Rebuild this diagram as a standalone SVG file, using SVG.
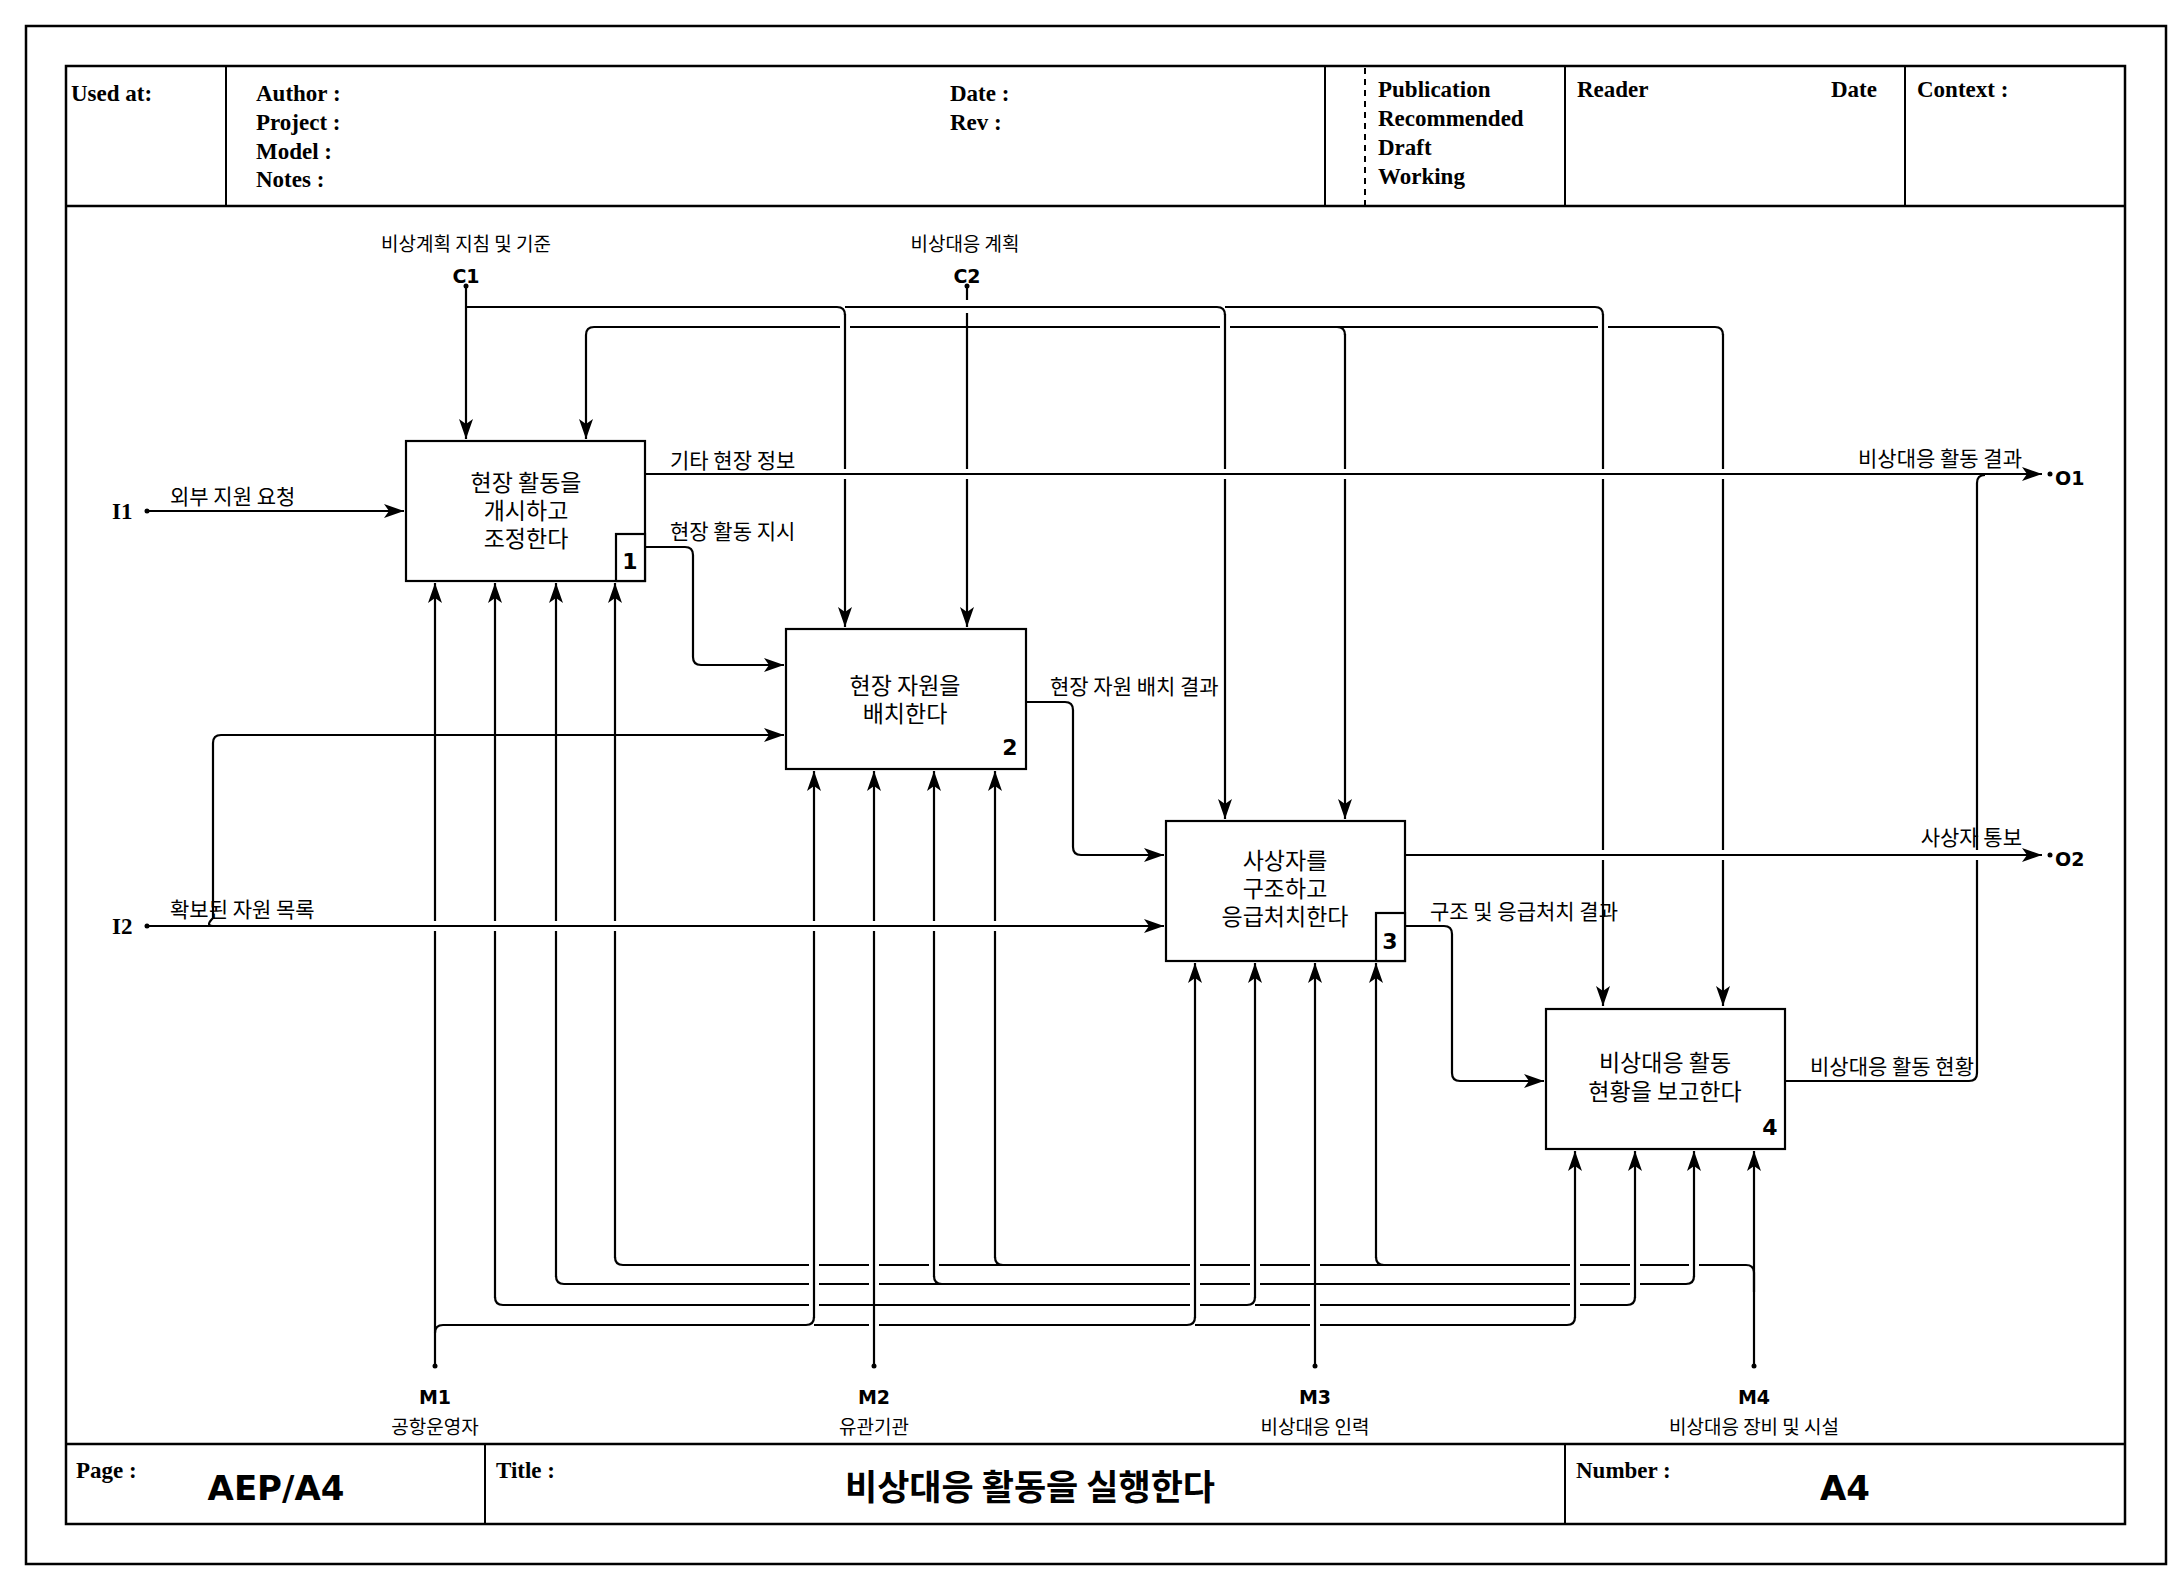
<svg xmlns="http://www.w3.org/2000/svg" width="2181" height="1581" viewBox="0 0 2181 1581">
<style>
.fr{fill:none;stroke:#000;stroke-width:2.5}
.hd{font-family:"Liberation Serif",serif;font-weight:bold;font-size:23px}
.bx{fill:#fff;stroke:#000;stroke-width:2.2}
.bt{font-family:"Noto Sans CJK KR","Noto Sans",sans-serif;font-size:23px;text-anchor:middle}
.lb{font-family:"Noto Sans CJK KR","Noto Sans",sans-serif;font-size:21px}
.sl{font-family:"Noto Sans CJK KR","Noto Sans",sans-serif;font-size:19px;text-anchor:middle}
.nm{font-family:"DejaVu Sans",sans-serif;font-weight:bold;font-size:22px}
.big{font-family:"DejaVu Sans",sans-serif;font-weight:bold;font-size:34px;text-anchor:middle}
.pt{font-family:"DejaVu Sans",sans-serif;font-weight:bold;font-size:19px}
.c{fill:none;stroke:#000;stroke-width:2.2}
.a{marker-end:url(#ar)}
.h{fill:none;stroke:#fff;stroke-width:10}
</style>
<defs>
<marker id="ar" markerUnits="userSpaceOnUse" markerWidth="22" markerHeight="16" refX="20" refY="7" orient="auto">
<path d="M0,0 L20,7 L0,14 L5,7 z" fill="#000"/>
</marker>
</defs>
<rect width="2181" height="1581" fill="#fff"/>
<g id="frame">
<rect class="fr" x="26" y="26" width="2140" height="1538"/>
<rect class="fr" x="66" y="66" width="2059" height="1458"/>
<line class="fr" x1="66" y1="206" x2="2125" y2="206"/>
<line class="fr" x1="66" y1="1444" x2="2125" y2="1444"/>
<line x1="226" y1="66" x2="226" y2="206" stroke="#000" stroke-width="2"/>
<line x1="1325" y1="66" x2="1325" y2="206" stroke="#000" stroke-width="2"/>
<line x1="1365" y1="68" x2="1365" y2="206" stroke="#000" stroke-width="2" stroke-dasharray="6,5"/>
<line x1="1565" y1="66" x2="1565" y2="206" stroke="#000" stroke-width="2"/>
<line x1="1905" y1="66" x2="1905" y2="206" stroke="#000" stroke-width="2"/>
<line x1="485" y1="1444" x2="485" y2="1524" stroke="#000" stroke-width="2"/>
<line x1="1565" y1="1444" x2="1565" y2="1524" stroke="#000" stroke-width="2"/>
<text class="hd" x="71" y="101">Used at:</text>
<text class="hd" x="256" y="101">Author :</text>
<text class="hd" x="256" y="130">Project :</text>
<text class="hd" x="256" y="159">Model :</text>
<text class="hd" x="256" y="187">Notes :</text>
<text class="hd" x="950" y="101">Date :</text>
<text class="hd" x="950" y="130">Rev :</text>
<text class="hd" x="1378" y="97">Publication</text>
<text class="hd" x="1378" y="126">Recommended</text>
<text class="hd" x="1378" y="155">Draft</text>
<text class="hd" x="1378" y="184">Working</text>
<text class="hd" x="1577" y="97">Reader</text>
<text class="hd" x="1831" y="97">Date</text>
<text class="hd" x="1917" y="97">Context :</text>
<text class="hd" x="76" y="1478">Page :</text>
<text class="hd" x="496" y="1478">Title :</text>
<text class="hd" x="1576" y="1478">Number :</text>
<text class="big" x="276" y="1500">AEP/A4</text>
<text x="1030" y="1500" text-anchor="middle" style="font-family:'Noto Sans CJK KR',sans-serif;font-weight:bold;font-size:35px">비상대응 활동을 실행한다</text>
<text class="big" x="1845" y="1500">A4</text>
</g>
<g id="connectors">
<path class="c" d="M435,1333 Q435,1325 443,1325 L806,1325 Q814,1325 814,1317"/>
<path class="c" d="M814,1325 L1187,1325 Q1195,1325 1195,1317"/>
<path class="c" d="M1195,1325 L1567,1325 Q1575,1325 1575,1317"/>
<path class="c" d="M874,1305 L503,1305 Q495,1305 495,1297"/>
<path class="c" d="M874,1305 L1247,1305 Q1255,1305 1255,1297"/>
<path class="c" d="M1255,1305 L1627,1305 Q1635,1305 1635,1297"/>
<path class="c" d="M1315,1284 L564,1284 Q556,1284 556,1276"/>
<path class="c" d="M942,1284 Q934,1284 934,1276"/>
<path class="c" d="M1315,1284 L1686,1284 Q1694,1284 1694,1276"/>
<path class="c" d="M1754,1292 L1754,1273 Q1754,1265 1746,1265 L623,1265 Q615,1265 615,1257"/>
<path class="c" d="M1003,1265 Q995,1265 995,1257"/>
<path class="c" d="M1384,1265 Q1376,1265 1376,1257"/>
<path class="h" d="M814,1315 L814,790 M1195,1315 L1195,980 M1575,1315 L1575,1170 M495,1295 L495,600 M1255,1295 L1255,980 M1635,1295 L1635,1170 M556,1274 L556,600 M934,1274 L934,790 M1694,1274 L1694,1170 M874,1340 L874,1312 M874,1298 L874,1255 M1315,1340 L1315,1290 M1315,1278 L1315,1255"/>
<path class="c a" d="M435,1366 L435,583"/>
<path class="c a" d="M814,1318 L814,771"/>
<path class="c a" d="M1195,1318 L1195,963"/>
<path class="c a" d="M1575,1318 L1575,1151"/>
<path class="c a" d="M874,1366 L874,771"/>
<path class="c a" d="M495,1298 L495,583"/>
<path class="c a" d="M1255,1298 L1255,963"/>
<path class="c a" d="M1635,1298 L1635,1151"/>
<path class="c a" d="M1315,1366 L1315,963"/>
<path class="c a" d="M556,1277 L556,583"/>
<path class="c a" d="M934,1277 L934,771"/>
<path class="c a" d="M1694,1277 L1694,1151"/>
<path class="c a" d="M1754,1366 L1754,1151"/>
<path class="c a" d="M615,1258 L615,583"/>
<path class="c a" d="M995,1258 L995,771"/>
<path class="c a" d="M1376,1258 L1376,963"/>
<path class="c a" d="M466,286 L466,439"/>
<path class="c" d="M466,307 L837,307 Q845,307 845,315"/>
<path class="c" d="M845,307 L1217,307 Q1225,307 1225,315"/>
<path class="c" d="M1225,307 L1595,307 Q1603,307 1603,315"/>
<path class="c a" d="M1715,327 L594,327 Q586,327 586,335 L586,439"/>
<path class="c" d="M1337,327 Q1345,327 1345,335"/>
<path class="c" d="M1715,327 Q1723,327 1723,335"/>
<path class="c" d="M967,286 L967,300"/>
<path class="h" d="M845,316 L845,340 M1225,316 L1225,340 M1603,316 L1603,340"/>
<path class="c a" d="M967,313 L967,627"/>
<path class="c a" d="M845,314 L845,627"/>
<path class="c a" d="M1225,314 L1225,819"/>
<path class="c a" d="M1345,334 L1345,819"/>
<path class="c a" d="M1603,314 L1603,1006"/>
<path class="c a" d="M1723,334 L1723,1006"/>
<path class="c a" d="M645,547 L685,547 Q693,547 693,555 L693,657 Q693,665 701,665 L784,665"/>
<path class="c a" d="M1026,702 L1065,702 Q1073,702 1073,710 L1073,847 Q1073,855 1081,855 L1164,855"/>
<path class="c a" d="M1405,926 L1444,926 Q1452,926 1452,934 L1452,1073 Q1452,1081 1460,1081 L1544,1081"/>
<path class="c" d="M1785,1081 L1969,1081 Q1977,1081 1977,1073 L1977,483 Q1977,475 1985,475"/>
<path class="c a" d="M147,511 L404,511"/>
<path class="h" d="M240,926 L1150,926"/>
<path class="c a" d="M147,926 L1164,926"/>
<path class="c a" d="M213,926 Q205,926 213,918 L213,743 Q213,735 221,735 L784,735"/>
<path class="h" d="M660,474 L1960,474 M1420,855 L2030,855"/>
<path class="c a" d="M645,474 L2042,474"/>
<path class="c a" d="M1405,855 L2042,855"/>
<circle cx="147" cy="511" r="2.5"/><circle cx="147" cy="926" r="2.5"/>
<circle cx="435" cy="1366" r="2.5"/><circle cx="874" cy="1366" r="2.5"/><circle cx="1315" cy="1366" r="2.5"/><circle cx="1754" cy="1366" r="2.5"/>
<circle cx="466" cy="286" r="2.5"/><circle cx="967" cy="286" r="2.5"/>
<circle cx="2050" cy="474" r="2.5"/><circle cx="2050" cy="855" r="2.5"/>
</g>
<g id="box1">
<rect class="bx" x="406" y="441" width="239" height="140"/>
<rect class="bx" x="616" y="534" width="29" height="47"/>
<text class="nm" x="630" y="569" text-anchor="middle">1</text>
<text class="bt" x="526" y="491">현장 활동을</text>
<text class="bt" x="526" y="519">개시하고</text>
<text class="bt" x="526" y="547">조정한다</text>
</g>
<g id="box2">
<rect class="bx" x="786" y="629" width="240" height="140"/>
<text class="nm" x="1010" y="755" text-anchor="middle">2</text>
<text class="bt" x="905" y="694">현장 자원을</text>
<text class="bt" x="905" y="722">배치한다</text>
</g>
<g id="box3">
<rect class="bx" x="1166" y="821" width="239" height="140"/>
<rect class="bx" x="1376" y="913" width="29" height="48"/>
<text class="nm" x="1390" y="949" text-anchor="middle">3</text>
<text class="bt" x="1285" y="869">사상자를</text>
<text class="bt" x="1285" y="897">구조하고</text>
<text class="bt" x="1285" y="925">응급처치한다</text>
</g>
<g id="box4">
<rect class="bx" x="1546" y="1009" width="239" height="140"/>
<text class="nm" x="1770" y="1135" text-anchor="middle">4</text>
<text class="bt" x="1665" y="1071">비상대응 활동</text>
<text class="bt" x="1665" y="1100">현황을 보고한다</text>
</g>
<g id="labels">
<text class="sl" x="466" y="251">비상계획 지침 및 기준</text>
<text class="pt" x="466" y="283" text-anchor="middle">C1</text>
<text class="sl" x="965" y="251">비상대응 계획</text>
<text class="pt" x="967" y="283" text-anchor="middle">C2</text>
<text class="hd" x="112" y="519">I1</text>
<text class="hd" x="112" y="934">I2</text>
<text class="pt" x="2055" y="485">O1</text>
<text class="pt" x="2055" y="866">O2</text>
<text class="lb" x="170" y="504">외부 지원 요청</text>
<text class="lb" x="170" y="917">확보된 자원 목록</text>
<text class="lb" x="670" y="468">기타 현장 정보</text>
<text class="lb" x="670" y="539">현장 활동 지시</text>
<text class="lb" x="1050" y="694">현장 자원 배치 결과</text>
<text class="lb" x="1430" y="919">구조 및 응급처치 결과</text>
<text class="lb" x="1810" y="1074">비상대응 활동 현황</text>
<text class="lb" x="2022" y="466" text-anchor="end">비상대응 활동 결과</text>
<text class="lb" x="2022" y="845" text-anchor="end">사상자 통보</text>
<text class="pt" x="435" y="1404" text-anchor="middle">M1</text>
<text class="pt" x="874" y="1404" text-anchor="middle">M2</text>
<text class="pt" x="1315" y="1404" text-anchor="middle">M3</text>
<text class="pt" x="1754" y="1404" text-anchor="middle">M4</text>
<text class="sl" x="435" y="1434">공항운영자</text>
<text class="sl" x="874" y="1434">유관기관</text>
<text class="sl" x="1315" y="1434">비상대응 인력</text>
<text class="sl" x="1754" y="1434">비상대응 장비 및 시설</text>
</g>
</svg>
